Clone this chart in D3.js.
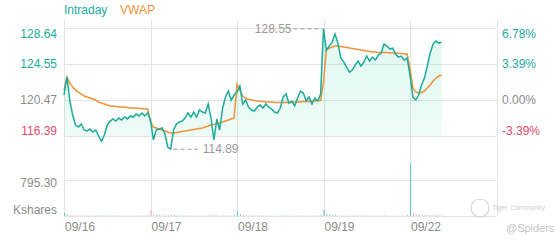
<!DOCTYPE html>
<html>
<head>
<meta charset="utf-8">
<script src="https://cdn.jsdelivr.net/npm/d3@7"></script>
<style>
  html, body { margin: 0; padding: 0; background: #fff; }
  #chart { width: 560px; height: 240px; }
  text { font-family: "Liberation Sans", Arial, sans-serif; }
</style>
</head>
<body>
<div id="chart"></div>
<script>
// Data (prices, 30 samples per trading day)
const days = ["09/16", "09/17", "09/18", "09/19", "09/22"];
const prevClose = 120.47;
const priceTicks = [128.64, 124.55, 120.47, 116.39];
const pctTicks = ["6.78%", "3.39%", "0.00%", "-3.39%"];
const volTick = 795.30;

const intraday16 = [121.04, 123.08, 120.47, 118.77, 117.64, 117.41, 117.75, 117.07, 116.96, 117.18,
  116.84, 117.07, 116.39, 115.82, 116.50, 117.64, 118.09, 118.32, 118.09, 118.43,
  118.20, 118.54, 118.32, 118.66, 118.54, 118.88, 118.66, 119.00, 118.66, 119.00];
const intraday17 = [118.20, 115.94, 117.07, 117.18, 117.30, 116.62, 115.14, 114.89, 117.07, 117.75,
  117.98, 118.09, 118.43, 119.00, 118.54, 119.11, 118.54, 119.34, 119.11, 119.00,
  120.02, 118.43, 115.94, 118.32, 117.07, 119.56, 120.81, 121.49, 120.47, 121.04];
const intraday18 = [121.38, 122.06, 120.02, 120.47, 119.68, 119.34, 119.22, 119.68, 119.90, 119.56,
  120.02, 119.68, 119.45, 119.11, 119.00, 119.56, 120.81, 121.15, 120.13, 120.36,
  119.79, 120.70, 121.49, 121.26, 120.36, 120.81, 120.02, 120.70, 120.36, 121.15];
const intraday19 = [128.55, 126.14, 126.59, 127.04, 127.95, 126.93, 125.23, 124.78, 124.21, 123.64,
  123.87, 124.44, 124.89, 124.32, 124.78, 125.46, 124.89, 125.34, 125.00, 125.57,
  125.80, 126.82, 126.59, 126.25, 126.36, 125.68, 125.34, 125.46, 125.00, 125.23];
const intraday22 = [123.30, 120.81, 120.47, 121.04, 122.17, 122.96, 124.32, 125.80, 126.82, 127.16,
  126.93, 127.04];

const vwap16 = [121.60, 123.08, 122.40, 121.94, 121.60, 121.38, 121.15, 120.92, 120.81, 120.70,
  120.58, 120.47, 120.24, 120.13, 120.02, 119.90, 119.79, 119.79, 119.73, 119.68,
  119.68, 119.68, 119.62, 119.56, 119.56, 119.56, 119.51, 119.51, 119.45, 119.45];
const vwap17 = [117.98, 117.41, 117.30, 117.18, 117.07, 116.96, 116.84, 116.73, 116.73, 116.79,
  116.84, 116.90, 116.96, 117.01, 117.07, 117.13, 117.18, 117.24, 117.30, 117.41,
  117.52, 117.64, 117.69, 117.75, 117.86, 117.98, 118.09, 118.20, 118.32, 118.43];
const vwap18 = [122.28, 121.60, 120.92, 120.70, 120.53, 120.47, 120.41, 120.36, 120.30, 120.30,
  120.24, 120.24, 120.24, 120.19, 120.19, 120.19, 120.19, 120.19, 120.19, 120.19,
  120.24, 120.24, 120.24, 120.30, 120.30, 120.30, 120.36, 120.36, 120.41, 120.41];
const vwap19 = [122.51, 126.14, 126.36, 126.48, 126.59, 126.59, 126.53, 126.48, 126.42, 126.36,
  126.31, 126.25, 126.19, 126.14, 126.08, 126.02, 125.97, 125.91, 125.91, 125.85,
  125.85, 125.85, 125.85, 125.80, 125.80, 125.80, 125.74, 125.74, 125.68, 125.68];
const vwap22 = [124.10, 121.83, 121.38, 121.26, 121.32, 121.49, 121.83, 122.17, 122.62, 122.96,
  123.19, 123.30];

// volume in Kshares
const vol16 = [70, 25, 18, 14, 12, 15, 10, 12, 9, 11, 14, 10, 20, 16, 12, 10, 9, 11, 8, 10, 9, 8, 10, 9, 8, 11, 9, 10, 12, 18];
const vol17 = [135, 40, 25, 18, 15, 14, 22, 20, 16, 12, 10, 11, 9, 10, 8, 9, 11, 10, 9, 12, 10, 14, 20, 12, 11, 13, 10, 9, 11, 16];
const vol18 = [110, 30, 20, 16, 13, 12, 10, 11, 9, 10, 8, 9, 10, 8, 9, 12, 14, 10, 9, 8, 10, 9, 11, 9, 8, 10, 9, 11, 12, 18];
const vol19 = [140, 45, 28, 20, 16, 14, 12, 11, 13, 10, 9, 10, 8, 9, 10, 9, 8, 9, 10, 8, 9, 11, 10, 9, 8, 9, 10, 9, 11, 20];
const vol22 = [1170, 60, 35, 25, 20, 18, 16, 14, 15, 13, 12, 12];
// direction of the opening bar of each day (true = up)
const openUp = [true, false, true, true, true];

const perDay = 30;
const priceDays = [intraday16, intraday17, intraday18, intraday19, intraday22];
const vwapDays = [vwap16, vwap17, vwap18, vwap19, vwap22];
const volDays = [vol16, vol17, vol18, vol19, vol22];

// build point list
const points = [];
priceDays.forEach((arr, d) => {
  arr.forEach((p, i) => {
    points.push({ t: d + i / perDay, price: p, vwap: vwapDays[d][i], vol: volDays[d][i], day: d, i: i });
  });
});
points.forEach((p, k) => {
  p.up = p.i === 0 ? openUp[p.day] : p.price >= points[k - 1].price;
});

// colours
const teal = "#1aab9b";
const orange = "#f0923a";
const red = "#e2496b";
const grey = "#8c8c8c";
const gridColor = "#e4e4e4";

const W = 560, H = 240;
const left = 64, right = 496.5;
const priceTop = 28, priceBottom = 136;
const volTop = 180, volBottom = 216;

const svg = d3.select("#chart").append("svg")
  .attr("width", W)
  .attr("height", H);

const x = d3.scaleLinear().domain([0, 5]).range([left, right]);
const y = d3.scaleLinear().domain([priceTicks[3], priceTicks[0]]).range([priceBottom, priceTop]);
const yVol = d3.scaleLinear().domain([0, volTick]).range([volBottom, volTop]);

// gradient for the area
const defs = svg.append("defs");
const grad = defs.append("linearGradient")
  .attr("id", "fillGrad")
  .attr("x1", 0).attr("y1", 0).attr("x2", 0).attr("y2", 1);
grad.append("stop").attr("offset", "0%").attr("stop-color", "#3fd6a6").attr("stop-opacity", 0.16);
grad.append("stop").attr("offset", "100%").attr("stop-color", "#3fd6a6").attr("stop-opacity", 0.08);

defs.append("clipPath").attr("id", "priceClip")
  .append("rect")
  .attr("x", left).attr("y", 0)
  .attr("width", right - left).attr("height", priceBottom);

// grid
const grid = svg.append("g");
[...priceTicks.map(v => y(v)), yVol(volTick), volBottom].forEach(gy => {
  grid.append("line")
    .attr("x1", left).attr("x2", right)
    .attr("y1", Math.round(gy) + 0.5).attr("y2", Math.round(gy) + 0.5)
    .attr("stroke", gridColor);
});
d3.range(0, 6).forEach(d => {
  grid.append("line")
    .attr("x1", Math.round(x(d)) + 0.5).attr("x2", Math.round(x(d)) + 0.5)
    .attr("y1", 20).attr("y2", volBottom)
    .attr("stroke", gridColor);
});

// area + lines
const area = d3.area()
  .x(d => x(d.t))
  .y0(priceBottom)
  .y1(d => y(d.price));

const priceLine = d3.line()
  .x(d => x(d.t))
  .y(d => y(d.price));

const vwapLine = d3.line()
  .x(d => x(d.t))
  .y(d => y(d.vwap));

svg.append("path")
  .datum(points)
  .attr("d", area)
  .attr("fill", "url(#fillGrad)")
  .attr("clip-path", "url(#priceClip)");

// volume bars
svg.append("g")
  .selectAll("line")
  .data(points)
  .enter()
  .append("line")
  .attr("x1", d => x(d.t) + 0.5)
  .attr("x2", d => x(d.t) + 0.5)
  .attr("y1", volBottom)
  .attr("y2", d => yVol(d.vol))
  .attr("stroke", d => d.up ? "#5fc9bb" : "#f3a3b6")
  .attr("stroke-width", 1);

svg.append("path")
  .datum(points)
  .attr("d", vwapLine)
  .attr("fill", "none")
  .attr("stroke", orange)
  .attr("stroke-width", 1.5);

svg.append("path")
  .datum(points)
  .attr("d", priceLine)
  .attr("fill", "none")
  .attr("stroke", teal)
  .attr("stroke-width", 1.5);

// axis labels
const tickColor = v => v > prevClose ? teal : (v < prevClose ? red : grey);
const tickDy = [10, 4, 4, -1];

priceTicks.forEach((v, i) => {
  svg.append("text")
    .attr("x", 57).attr("y", y(v) + tickDy[i])
    .attr("text-anchor", "end")
    .attr("font-size", 12)
    .attr("fill", tickColor(v))
    .text(v.toFixed(2));
  svg.append("text")
    .attr("x", 502).attr("y", y(v) + tickDy[i])
    .attr("font-size", 12)
    .attr("fill", tickColor(v))
    .text(pctTicks[i]);
});

svg.append("text")
  .attr("x", 57).attr("y", yVol(volTick) + 7)
  .attr("text-anchor", "end")
  .attr("font-size", 12)
  .attr("fill", grey)
  .text(volTick.toFixed(2));

svg.append("text")
  .attr("x", 57).attr("y", volBottom - 2)
  .attr("text-anchor", "end")
  .attr("font-size", 12)
  .attr("fill", grey)
  .text("Kshares");

// date labels
days.forEach((d, i) => {
  svg.append("text")
    .attr("x", x(i) + 1).attr("y", 231)
    .attr("font-size", 12)
    .attr("fill", grey)
    .text(d);
});

// legend
svg.append("text").attr("x", 64).attr("y", 14)
  .attr("font-size", 12).attr("fill", teal).text("Intraday");
svg.append("text").attr("x", 120).attr("y", 14)
  .attr("font-size", 12).attr("fill", orange).text("VWAP");

// high / low markers
const hi = points.reduce((a, b) => b.price > a.price ? b : a);
const lo = points.reduce((a, b) => b.price < a.price ? b : a);

svg.append("line")
  .attr("x1", x(hi.t) - 30).attr("x2", x(hi.t) - 1)
  .attr("y1", y(hi.price)).attr("y2", y(hi.price))
  .attr("stroke", "#999").attr("stroke-dasharray", "4,3");
svg.append("text")
  .attr("x", x(hi.t) - 32).attr("y", y(hi.price) + 4)
  .attr("text-anchor", "end")
  .attr("font-size", 12).attr("fill", "#999")
  .text(hi.price.toFixed(2));

svg.append("line")
  .attr("x1", x(lo.t) + 3).attr("x2", x(lo.t) + 27)
  .attr("y1", y(lo.price)).attr("y2", y(lo.price))
  .attr("stroke", "#999").attr("stroke-dasharray", "4,3");
svg.append("text")
  .attr("x", x(lo.t) + 32).attr("y", y(lo.price) + 4)
  .attr("font-size", 12).attr("fill", "#999")
  .text(lo.price.toFixed(2));

// watermark
svg.append("circle")
  .attr("cx", 480).attr("cy", 208).attr("r", 9)
  .attr("fill", "none").attr("stroke", "#d4d4d4").attr("stroke-width", 1.2);
svg.append("text")
  .attr("x", 492).attr("y", 210)
  .attr("font-size", 7).attr("fill", "#cfcfcf")
  .text("Tiger Community");
svg.append("text")
  .attr("x", 506).attr("y", 232)
  .attr("font-size", 11).attr("fill", "#c4c4c4")
  .text("@Spiders");
</script>
</body>
</html>
